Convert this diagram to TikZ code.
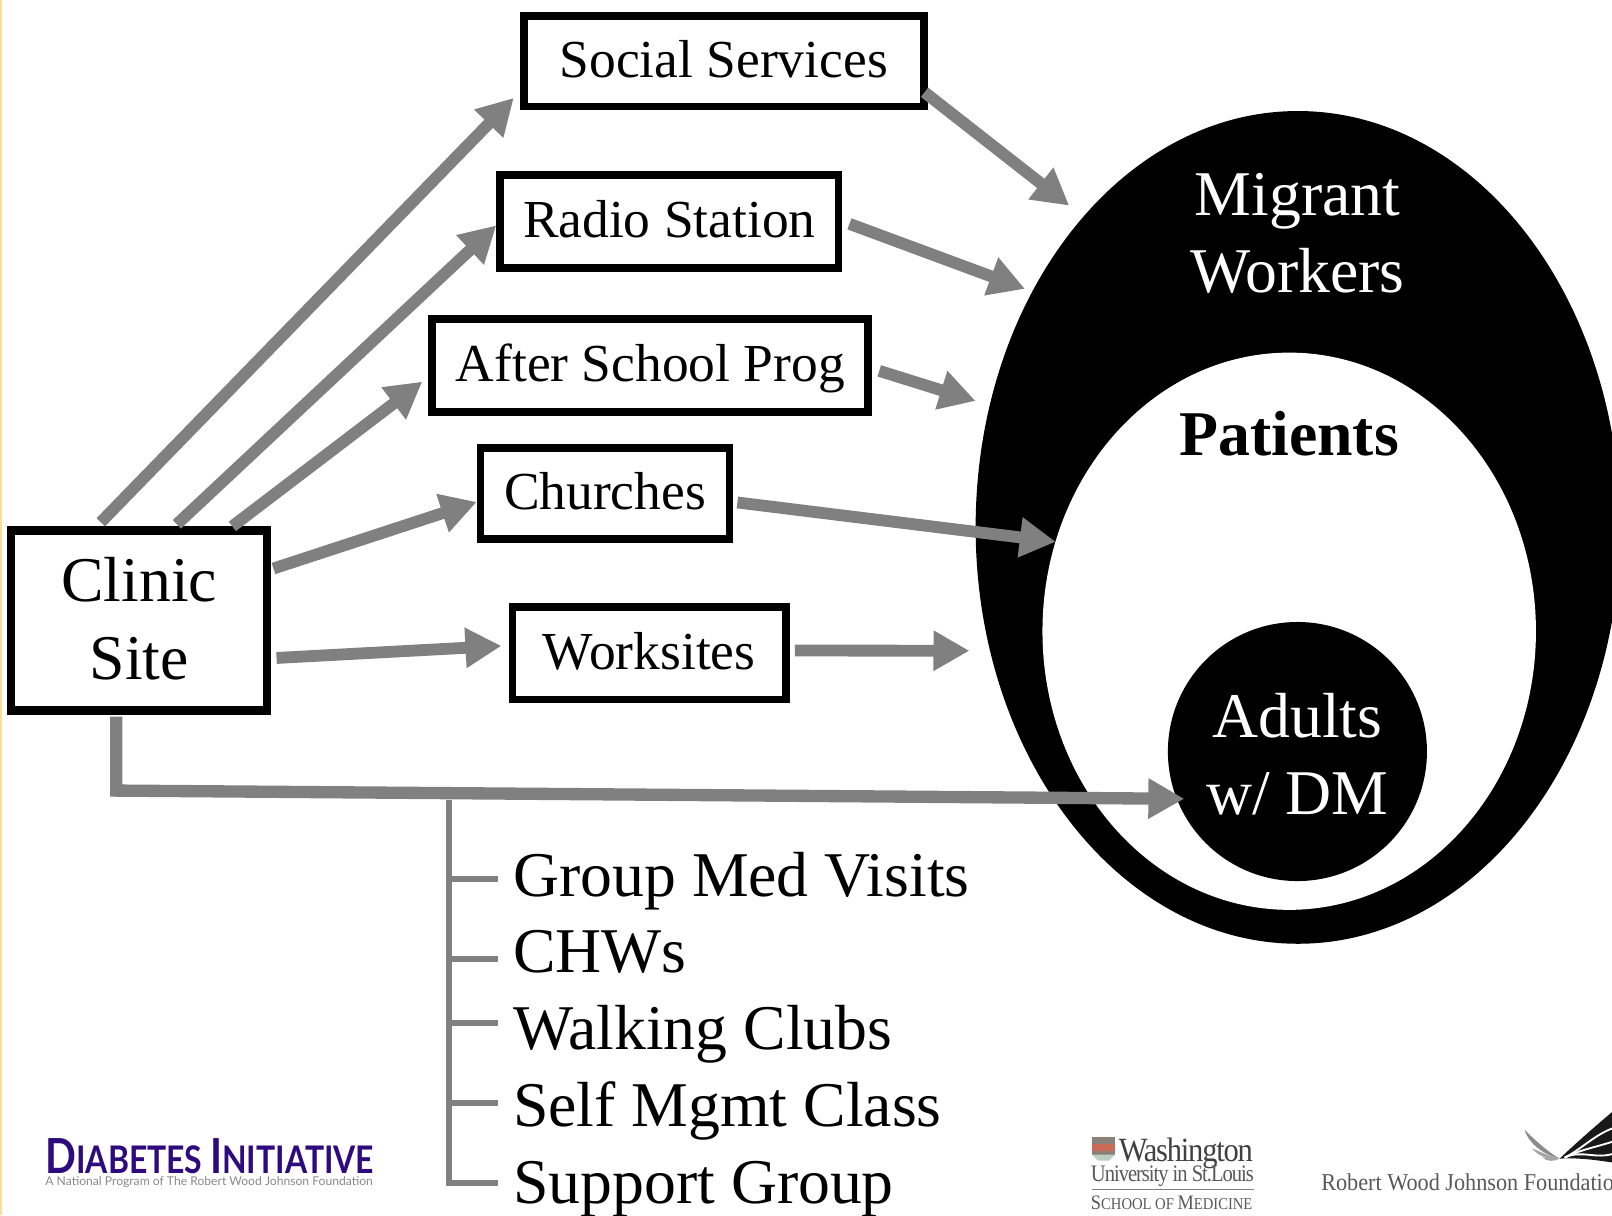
\documentclass[tikz,border=0pt]{standalone}
\usepackage{fontspec}
\setmainfont{Liberation Serif}
\newfontfamily\logosans{Lato}
\usetikzlibrary{shapes.geometric,arrows.meta}
\definecolor{conn}{HTML}{808080}
\definecolor{dipurple}{HTML}{2E0A7E}
\definecolor{logogray}{HTML}{8A8A8A}
\definecolor{stripe}{HTML}{FFDD99}
\definecolor{shieldred}{HTML}{C86A55}
\definecolor{shieldgray}{HTML}{8A8078}
\definecolor{shieldpale}{HTML}{BBD0C4}
\newcommand{\fsz}[1]{\fontsize{#1}{#1}\selectfont}
\tikzset{
  x=1pt,y=-1pt,
  boxbase/.style={draw=black,line width=7.5pt,fill=white,inner sep=0pt,align=center},
  box/.style={boxbase,font=\fsz{52},text depth=0pt,text height=31pt},
  blob/.style={ellipse,inner sep=0pt,outer sep=0pt},
  big/.style={font=\fsz{62},inner sep=0pt,anchor=base,align=center},
  item/.style={font=\fsz{62},inner sep=0pt,anchor=base west},
  arrow/.style={draw=conn,line width=11.5pt,-{Triangle[length=35pt,width=37pt]}},
  rail/.style={draw=conn,line width=6pt},
  tag/.style={inner sep=0pt,anchor=base west},
}
\begin{document}
\begin{tikzpicture}
\clip (0,0) rectangle (1568,1182);
\fill[white] (0,0) rectangle (1568,1182);
\fill[stripe] (0,0) rectangle (1.6,1182);
% ellipses
\node[blob,fill=black,minimum width=627pt,minimum height=810pt] (migrant) at (1262.5,513) {};
\node[blob,fill=white,minimum width=480pt,minimum height=542pt] (patients) at (1254,614) {};
\node[blob,fill=black,minimum width=252pt,minimum height=252pt] (adults) at (1262,731) {};
\node[big,text=white] (lmigrant) at (1262,210) {Migrant};
\node[big,text=white] (lworkers) at (1262,285) {Workers};
\node[big,font=\fsz{62}\bfseries] (lpatients) at (1254,443) {Patients};
\node[big,text=white] (ladults) at (1262,717) {Adults};
\node[big,text=white] (ldm) at (1262,792) {w/ DM};
% boxes
\node[box,minimum width=389pt,minimum height=88pt] (social) at (704,59.5) {Social Services};
\node[box,minimum width=329pt,minimum height=90pt] (radio) at (651,215.5) {Radio Station};
\node[box,minimum width=424pt,minimum height=90pt] (after) at (632.5,355.5) {After School Prog};
\node[box,minimum width=242pt,minimum height=89pt] (churches) at (588.5,480) {Churches};
\node[box,minimum width=266pt,minimum height=90pt] (worksites) at (631.5,635.5) {Worksites};
\node[boxbase,line width=8pt,minimum width=249pt,minimum height=175pt,font=\fsz{62},text depth=4pt] (clinic) at (135.5,603.5) {Clinic\\[13pt]Site};
% targets on the outer ellipse
\coordinate (t1) at (1040,200);
\coordinate (t2) at (997,281);
\coordinate (t3) at (949,390);
\coordinate (t4) at (1027,527);
\coordinate (t5) at (943,633);
\coordinate (t6) at (1152,777);
\coordinate (c6) at (113,769);
% clinic to partners
\draw[arrow] ([xshift=91pt,yshift=4pt]clinic.north west) -- ([xshift=-6pt,yshift=12pt]social.south west);
\draw[arrow] ([xshift=165pt,yshift=2pt]clinic.north west) -- ([yshift=45pt]radio.south west);
\draw[arrow] ([xshift=219pt]clinic.north west) -- ([xshift=-6pt,yshift=33pt]after.south west);
\draw[arrow] ([xshift=2pt,yshift=-41pt]clinic.north east) -- ([yshift=40pt]churches.south west);
\draw[arrow] ([xshift=5pt,yshift=-128pt]clinic.north east) -- ([xshift=-7pt,yshift=56pt]worksites.south west);
% partners to population
\draw[arrow] ([xshift=-3pt,yshift=-78pt]social.north east) -- (t1);
\draw[arrow] ([xshift=7pt,yshift=-51pt]radio.north east) -- (t2);
\draw[arrow] ([xshift=7pt,yshift=-54pt]after.north east) -- (t3);
\draw[arrow] ([xshift=4pt,yshift=-57pt]churches.north east) -- (t4);
\draw[arrow] ([xshift=5pt,yshift=-46pt]worksites.north east) -- (t5);
\draw[arrow,line width=12pt] ([xshift=106pt,yshift=-2pt]clinic.south west) -- (c6) -- (t6);
% list
\coordinate (r0) at (437,778);
\coordinate (r5) at (437,1154);
\coordinate (h1) at (484,855);
\coordinate (h2) at (484,933);
\coordinate (h3) at (484,995);
\coordinate (h4) at (484,1073);
\coordinate (h5) at (484,1151);
\draw[rail] (r0) -- (r5);
\draw[rail] (h1) -- (h1 -| r0);
\draw[rail] (h2) -- (h2 -| r0);
\draw[rail] (h3) -- (h3 -| r0);
\draw[rail] (h4) -- (h4 -| r0);
\draw[rail] (h5) -- (h5 -| r0);
\node[item] (i1) at (499,872) {Group Med Visits};
\node[item] (i2) at (499,946) {CHWs};
\node[item] (i3) at (499,1021) {Walking Clubs};
\node[item] (i4) at (499,1096) {Self Mgmt Class};
\node[item] (i5) at (499,1171) {Support Group};
% Diabetes Initiative logo
\node[tag,text=dipurple] (di) at (44,1141) {\scalebox{.84}[1]{\logosans\bfseries\fsz{47}D\fsz{37}IABETES \fsz{47}I\fsz{37}NITIATIVE}};
\node[tag,text=logogray] (dis) at (44,1153) {\logosans\fsz{11.8}A National Program of The Robert Wood Johnson Foundation};
% Washington University logo
\fill[shieldgray] (1062,1106) rectangle (1085,1113);
\fill[shieldred] (1062,1113) rectangle (1085,1120);
\fill[shieldgray] (1062,1120) rectangle (1085,1123);
\fill[shieldpale] (1062,1123) -- (1085,1123) -- (1079,1129) -- (1068,1129) -- cycle;
\node[tag,text=black!75] (wu1) at (1088,1130) {\scalebox{.9}[1]{\fsz{33}\addfontfeatures{LetterSpace=-4}Washington}};
\node[tag,text=black!65] (wu2) at (1061,1149) {\scalebox{.87}[1]{\fsz{23}\addfontfeatures{LetterSpace=-5}University in St.Louis}};
\draw[black!50,line width=.8pt] (1062,1157) -- (1220,1157);
\node[tag,text=black!65] (wu3) at (1061,1176) {\scalebox{.89}[1]{\fsz{20}S\fsz{16}CHOOL OF \fsz{20}M\fsz{16}EDICINE}};
% RWJF logo
\node[tag,text=black!65] (rw) at (1285,1158) {\scalebox{.92}[1]{\fsz{23.5}Robert Wood Johnson Foundation}};
\fill[black!90] (1517,1127) .. controls (1535,1110) and (1550,1097) .. (1570,1080) -- (1570,1131) .. controls (1550,1128) and (1535,1126) .. (1517,1127) -- cycle;
\foreach \a in {1097,1110,1122}
  \draw[white,line width=1.8pt] (1522,1126) .. controls (1538,1118) and (1552,\a+6) .. (1570,\a);
\fill[black!45] (1517,1127) .. controls (1505,1120) and (1492,1108) .. (1483,1099) .. controls (1486,1110) and (1498,1122) .. (1517,1127) -- cycle;
\fill[black!35] (1517,1127) .. controls (1508,1125) and (1498,1120) .. (1490,1117) .. controls (1496,1124) and (1506,1129) .. (1517,1127) -- cycle;
\fill[black!35] (1517,1127) .. controls (1512,1127) and (1506,1126) .. (1500,1126) .. controls (1505,1130) and (1512,1130) .. (1517,1127) -- cycle;
\end{tikzpicture}
\end{document}
